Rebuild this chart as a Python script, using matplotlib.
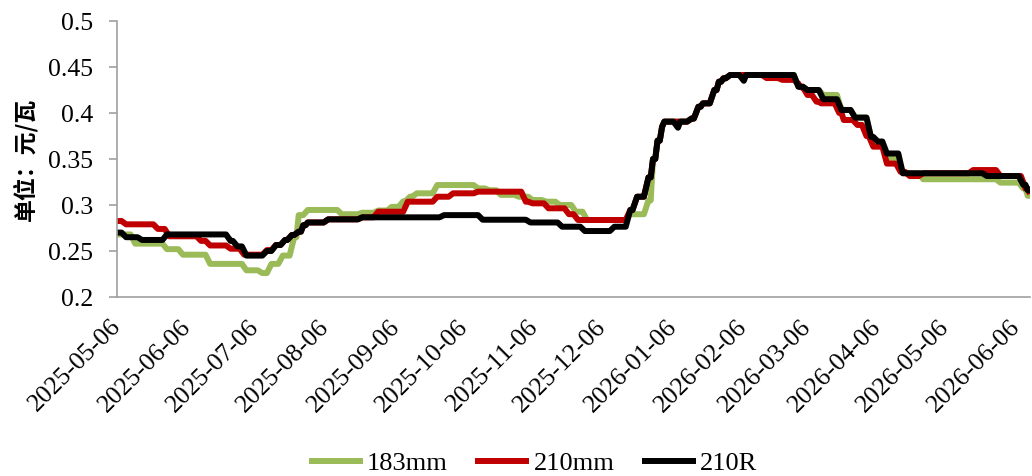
import matplotlib
matplotlib.use("Agg")
import matplotlib.pyplot as plt
import matplotlib.dates as mdates
from matplotlib.ticker import FixedLocator, FuncFormatter
import pandas as pd

# Price series (date where a new quote takes effect, price in yuan/W)
dates_183 = ["2025-05-06", "2025-05-14", "2025-05-28", "2025-06-04", "2025-06-16", "2025-07-02",
             "2025-07-09", "2025-07-13", "2025-07-18", "2025-07-23", "2025-07-25", "2025-07-29",
             "2025-08-13", "2025-08-22", "2025-08-29", "2025-09-04", "2025-09-09", "2025-09-12",
             "2025-09-15", "2025-09-24", "2025-10-12", "2025-10-17", "2025-10-22", "2025-10-30",
             "2025-11-05", "2025-11-11", "2025-11-17", "2025-11-24", "2025-11-29", "2025-12-18",
             "2025-12-26", "2025-12-28", "2025-12-30", "2026-01-01", "2026-01-02", "2026-01-14",
             "2026-01-17", "2026-01-19", "2026-01-24", "2026-01-26", "2026-01-28", "2026-01-31",
             "2026-03-02", "2026-03-06", "2026-03-13", "2026-03-21", "2026-03-27", "2026-04-03",
             "2026-04-06", "2026-04-10", "2026-04-17", "2026-04-26", "2026-05-30", "2026-06-09",
             "2026-06-11", "2026-06-12"]
price_183 = [0.268, 0.258, 0.252, 0.246, 0.236, 0.229,
             0.226, 0.236, 0.245, 0.265, 0.289, 0.2946,
             0.290, 0.2916, 0.294, 0.298, 0.304, 0.309,
             0.3127, 0.3217, 0.318, 0.316, 0.311, 0.309,
             0.3054, 0.3036, 0.300, 0.2927, 0.2837, 0.290,
             0.305, 0.350, 0.370, 0.385, 0.3906, 0.394,
             0.4068, 0.4105, 0.425, 0.434, 0.4377, 0.4413,
             0.4286, 0.425, 0.4196, 0.4033, 0.395, 0.372,
             0.367, 0.351, 0.3345, 0.328, 0.3243, 0.318,
             0.310, 0.310]

dates_210 = ["2025-05-06", "2025-05-10", "2025-05-24", "2025-05-29", "2025-06-12", "2025-06-16",
             "2025-06-25", "2025-07-01", "2025-07-11", "2025-07-15", "2025-07-19", "2025-07-22",
             "2025-07-25", "2025-07-27", "2025-07-29", "2025-08-07", "2025-08-22", "2025-08-29",
             "2025-09-11", "2025-09-24", "2025-10-01", "2025-10-12", "2025-11-02", "2025-11-05",
             "2025-11-12", "2025-11-21", "2025-11-25", "2025-12-18", "2025-12-21", "2025-12-26",
             "2025-12-28", "2025-12-30", "2026-01-01", "2026-01-02", "2026-01-14", "2026-01-17",
             "2026-01-19", "2026-01-24", "2026-01-26", "2026-01-28", "2026-01-31", "2026-02-16",
             "2026-02-23", "2026-03-02", "2026-03-03", "2026-03-06", "2026-03-10", "2026-03-12",
             "2026-03-20", "2026-03-22", "2026-03-28", "2026-04-01", "2026-04-04", "2026-04-10",
             "2026-04-16", "2026-04-20", "2026-04-26", "2026-05-18", "2026-05-30", "2026-06-10",
             "2026-06-12"]
price_210 = [0.2826, 0.279, 0.274, 0.266, 0.261, 0.256,
             0.2525, 0.246, 0.251, 0.2565, 0.262, 0.2674,
             0.271, 0.278, 0.281, 0.2844, 0.2866, 0.2927,
             0.3036, 0.309, 0.3127, 0.3145, 0.3036, 0.3018,
             0.2964, 0.290, 0.2837, 0.2946, 0.309, 0.330,
             0.350, 0.370, 0.385, 0.3906, 0.394, 0.4068,
             0.4105, 0.425, 0.434, 0.4377, 0.4413, 0.438,
             0.436, 0.432, 0.428, 0.4196, 0.4123, 0.4105,
             0.400, 0.3924, 0.387, 0.375, 0.3634, 0.345,
             0.336, 0.3315, 0.3345, 0.338, 0.3315, 0.318,
             0.312]

dates_210r = ["2025-05-06", "2025-05-10", "2025-05-17", "2025-05-28", "2025-06-25", "2025-06-28",
              "2025-07-02", "2025-07-11", "2025-07-15", "2025-07-19", "2025-07-22", "2025-07-25",
              "2025-07-27", "2025-07-29", "2025-08-07", "2025-08-22", "2025-09-27", "2025-10-14",
              "2025-11-04", "2025-11-18", "2025-11-28", "2025-12-11", "2025-12-18", "2025-12-21",
              "2025-12-26", "2025-12-28", "2025-12-30", "2026-01-01", "2026-01-02", "2026-01-08",
              "2026-01-09", "2026-01-14", "2026-01-17", "2026-01-19", "2026-01-24", "2026-01-26",
              "2026-01-28", "2026-01-31", "2026-02-06", "2026-02-07", "2026-03-02", "2026-03-06",
              "2026-03-13", "2026-03-21", "2026-03-27", "2026-04-03", "2026-04-06", "2026-04-10",
              "2026-04-17", "2026-05-24", "2026-06-09", "2026-06-11", "2026-06-12"]
price_210r = [0.270, 0.265, 0.262, 0.268, 0.261, 0.255,
              0.245, 0.250, 0.2565, 0.262, 0.2674, 0.271,
              0.278, 0.281, 0.2844, 0.2866, 0.289, 0.284,
              0.281, 0.2764, 0.2717, 0.2764, 0.2946, 0.309,
              0.330, 0.350, 0.370, 0.385, 0.3906, 0.384,
              0.3906, 0.394, 0.4068, 0.4105, 0.425, 0.434,
              0.4377, 0.4413, 0.435, 0.4413, 0.4286, 0.425,
              0.415, 0.4033, 0.395, 0.374, 0.369, 0.356,
              0.3345, 0.3315, 0.322, 0.316, 0.316]

series_names = ["183mm", "210mm", "210R"]
series_colors = ["#9BBB59", "#C00000", "#000000"]
tick_dates = ["2025-05-06", "2025-06-06", "2025-07-06", "2025-08-06", "2025-09-06", "2025-10-06",
              "2025-11-06", "2025-12-06", "2026-01-06", "2026-02-06", "2026-03-06", "2026-04-06",
              "2026-05-06", "2026-06-06"]
y_ticks = [0.2, 0.25, 0.3, 0.35, 0.4, 0.45, 0.5]


def held_path(dates, prices, ramp_days=2):
    """Each quote is held until the next one; the change is drawn as a short ramp."""
    d = list(pd.to_datetime(dates))
    xs, ys = [d[0]], [prices[0]]
    for i in range(1, len(d)):
        gap = (d[i] - d[i - 1]).days
        r = min(ramp_days, max(gap - 1, 0))
        if r > 0:
            xs.append(d[i] - pd.Timedelta(days=r))
            ys.append(prices[i - 1])
        xs.append(d[i])
        ys.append(prices[i])
    return xs, ys


plt.rcParams["font.family"] = ["Liberation Serif", "DejaVu Serif"]

fig = plt.figure(figsize=(10.32, 4.76), dpi=100)
ax = fig.add_axes([117 / 1032, 1 - 297 / 476, 913 / 1032, 276 / 476])

all_dates = [dates_183, dates_210, dates_210r]
all_prices = [price_183, price_210, price_210r]
for d, p, name, c in zip(all_dates, all_prices, series_names, series_colors):
    xs, ys = held_path(d, p)
    ax.plot(xs, ys, color=c, lw=4.3, label=name,
            solid_joinstyle="round", solid_capstyle="butt")

ax.set_xlim(pd.Timestamp("2025-05-06"), pd.Timestamp("2026-06-12"))
ax.set_ylim(0.2, 0.5)

ax.xaxis.set_major_locator(FixedLocator(mdates.date2num(pd.to_datetime(tick_dates))))
ax.xaxis.set_major_formatter(mdates.DateFormatter("%Y-%m-%d"))
ax.set_yticks(y_ticks)
ax.yaxis.set_major_formatter(FuncFormatter(lambda v, _: f"{v:g}"))

axis_gray = "#A0A0A0"
for s in ["top", "right"]:
    ax.spines[s].set_visible(False)
for s in ["left", "bottom"]:
    ax.spines[s].set_color(axis_gray)
    ax.spines[s].set_linewidth(1.2)

ax.tick_params(axis="y", direction="out", length=5.8, width=1.2, color=axis_gray,
               pad=11.5, labelsize=18.5)
ax.tick_params(axis="x", length=0, pad=19, labelsize=18.5)
for lab in ax.get_xticklabels():
    lab.set_rotation(45)
    lab.set_ha("right")
    lab.set_va("center")
    lab.set_rotation_mode("anchor")

ax.set_ylabel("单位：元/瓦", family=["Noto Sans CJK SC", "DejaVu Sans"],
              fontsize=16.5, fontweight="bold")
ax.yaxis.set_label_coords(-0.087, 0.5)

fig.legend(loc="center", bbox_to_anchor=(533 / 1032, 1 - 463 / 476), ncol=3,
           frameon=False, fontsize=19, handlelength=2.05, handletextpad=0.15,
           columnspacing=1.05, borderpad=0.2)

fig.savefig("out.png", dpi=100)
